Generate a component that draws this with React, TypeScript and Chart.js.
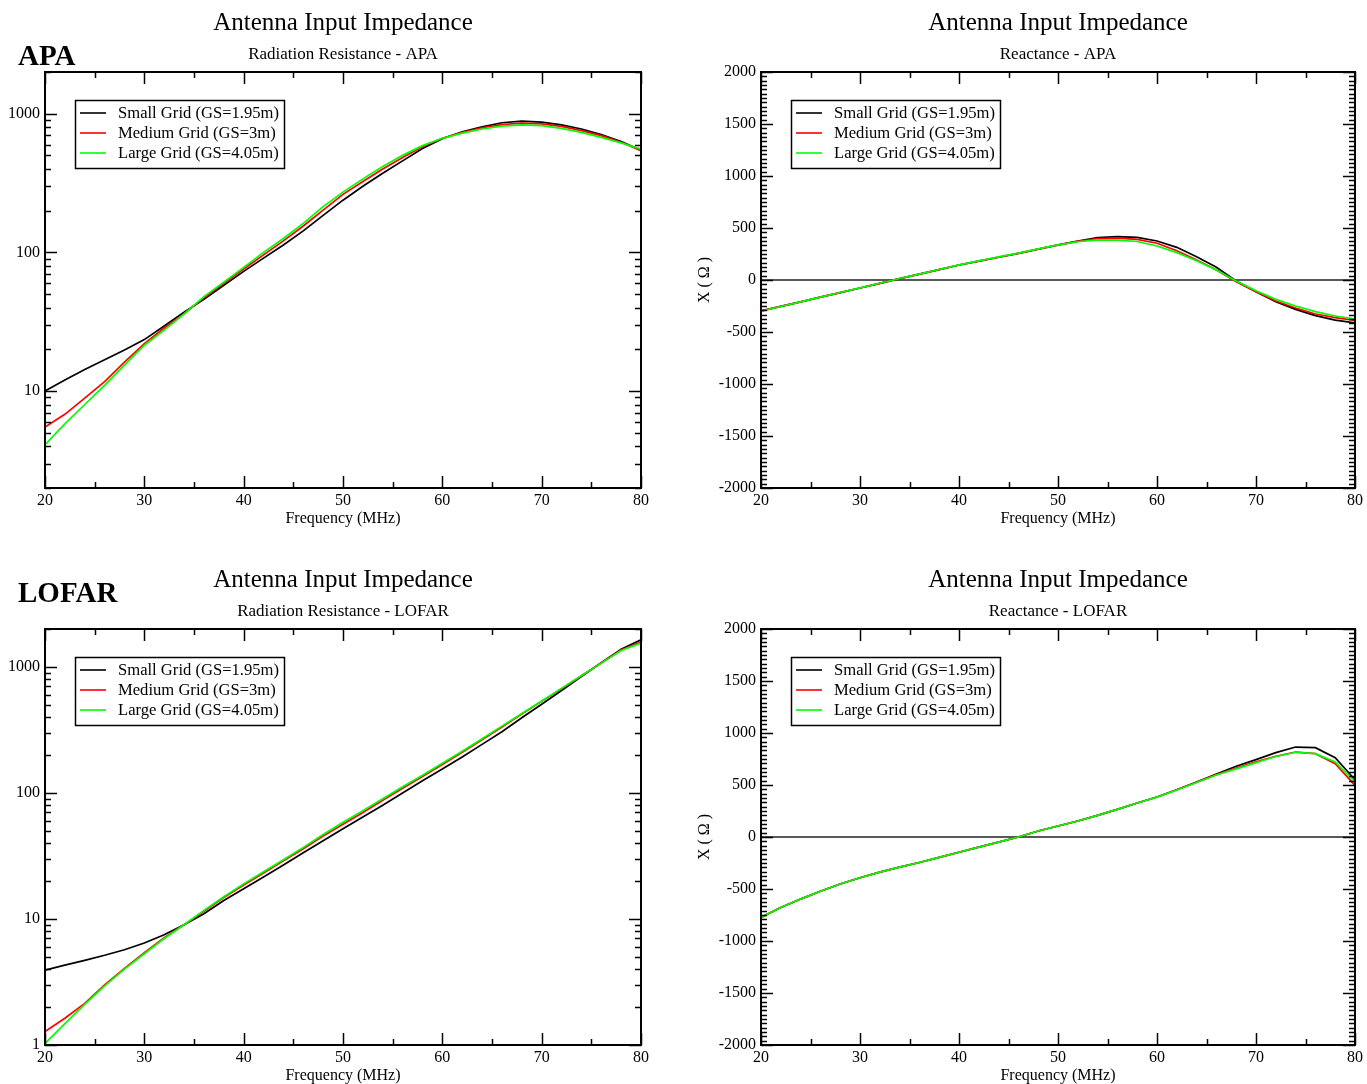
import React, { useEffect, useRef } from 'react';
import { Chart, registerables } from 'chart.js';

Chart.register(...registerables);

// ---------------- data ----------------
const FREQ = [20, 22, 24, 26, 28, 30, 32, 34, 36, 38, 40, 42, 44, 46, 48, 50, 52, 54, 56, 58, 60, 62, 64, 66, 68, 70, 72, 74, 76, 78, 80];

const SERIES_LABELS = ['Small Grid (GS=1.95m)', 'Medium Grid (GS=3m)', 'Large Grid (GS=4.05m)'];
const SERIES_COLORS = ['#000000', '#ff0000', '#00ff00'];

// APA radiation resistance (Ohm)
const APA_R_SMALL = [10.0, 12.0, 14.3, 16.8, 19.8, 23.5, 29.5, 37, 46, 58, 73, 91, 113, 143, 185, 238, 300, 372, 457, 562, 660, 741, 804, 861, 885, 871, 832, 776, 708, 631, 546];
const APA_R_MEDIUM = [5.5, 6.8, 8.9, 11.7, 16.2, 22, 28.5, 36, 47, 60, 76, 96, 121, 155, 202, 262, 325, 400, 483, 578, 665, 735, 793, 835, 855, 846, 810, 755, 695, 622, 542];
const APA_R_LARGE = [4.1, 5.8, 8.0, 11.0, 15.4, 21.4, 27.5, 36, 48, 61, 78, 100, 126, 162, 214, 272, 339, 417, 501, 589, 665, 724, 776, 813, 832, 822, 785, 733, 676, 617, 556];

// APA reactance (Ohm)
const APA_X_SMALL = [-298, -254, -210, -165, -121, -77, -32, 13, 56, 100, 144, 181, 219, 256, 297, 337, 375, 407, 417, 410, 375, 314, 224, 122, -10, -112, -208, -282, -343, -385, -412];
const APA_X_MEDIUM = [-298, -254, -210, -165, -121, -77, -32, 13, 56, 100, 144, 181, 219, 256, 297, 336, 372, 397, 402, 391, 353, 282, 192, 96, -16, -112, -202, -269, -327, -362, -388];
const APA_X_LARGE = [-300, -255, -210, -165, -120, -76, -31, 14, 57, 101, 146, 184, 222, 259, 299, 337, 368, 385, 383, 370, 327, 263, 186, 96, -10, -103, -186, -250, -304, -346, -375];

// LOFAR radiation resistance (Ohm)
const LOFAR_R_SMALL = [3.93, 4.3, 4.7, 5.15, 5.7, 6.45, 7.5, 9.0, 11.0, 14.0, 17.4, 21.5, 26.8, 33.5, 41.8, 52, 64.5, 80, 100, 125, 155, 193, 243, 306, 395, 506, 650, 840, 1080, 1380, 1640];
const LOFAR_R_MEDIUM = [1.28, 1.63, 2.14, 3.0, 4.05, 5.4, 7.1, 9.0, 11.5, 14.8, 18.6, 23.2, 29, 36, 45.5, 56.5, 70, 87.5, 109, 135, 168, 210, 264, 333, 422, 533, 672, 850, 1075, 1360, 1575];
const LOFAR_R_LARGE = [1.03, 1.48, 2.1, 2.95, 4.0, 5.3, 7.0, 9.0, 11.7, 15, 19, 23.7, 29.5, 37, 46.8, 58.6, 72.4, 90, 112, 138, 172, 214, 269, 339, 427, 537, 676, 851, 1072, 1349, 1549];

// LOFAR reactance (Ohm)
const LOFAR_X_SMALL = [-774, -677, -597, -522, -452, -392, -338, -290, -245, -196, -147, -98, -49, 0, 58, 106, 154, 208, 266, 327, 385, 455, 529, 606, 680, 744, 811, 865, 859, 763, 551];
const LOFAR_X_MEDIUM = [-774, -677, -597, -522, -452, -392, -338, -290, -245, -196, -147, -98, -49, 0, 58, 106, 154, 208, 266, 327, 385, 455, 527, 600, 662, 724, 776, 817, 801, 705, 497];
const LOFAR_X_LARGE = [-774, -677, -597, -522, -452, -392, -338, -290, -245, -196, -147, -98, -49, 0, 58, 106, 154, 208, 266, 327, 383, 452, 524, 596, 655, 715, 774, 815, 801, 721, 529];

// tick labels
const X_TICKS = [20, 30, 40, 50, 60, 70, 80];
const LOG_TICKS = [1, 10, 100, 1000];
const REACT_TICKS = [-2000, -1500, -1000, -500, 0, 500, 1000, 1500, 2000];

const MAIN_TITLE = 'Antenna Input Impedance';
const X_TITLE = 'Frequency (MHz)';
const Y_TITLE_REACT = 'X ( Ω )';

// ---------------- styling ----------------
const FONT = "'Liberation Serif', 'Times New Roman', serif";
Chart.defaults.color = '#000';
Chart.defaults.font.family = FONT;

const PANEL_H = 527;

function logTickList(min: number, max: number) {
  const out: { v: number; major: boolean }[] = [];
  for (let k = Math.floor(Math.log10(min)); k <= Math.ceil(Math.log10(max)); k++) {
    for (let m = 1; m <= 9; m++) {
      const v = m * Math.pow(10, k);
      if (v >= min - 1e-9 && v <= max + 1e-9) out.push({ v, major: m === 1 });
    }
  }
  return out;
}

function linTickList(min: number, max: number, major: number, sub: number) {
  const out: { v: number; major: boolean }[] = [];
  const step = major / sub;
  const n = Math.round((max - min) / step);
  for (let i = 0; i <= n; i++) out.push({ v: min + i * step, major: i % sub === 0 });
  return out;
}

const framePlugin = {
  id: 'frameTicks',
  afterDatasetsDraw(chart: any, _args: any, opts: any) {
    const { ctx, chartArea } = chart;
    const { left, right, top, bottom } = chartArea;
    const xs = chart.scales.x;
    const ys = chart.scales.y;
    ctx.save();
    ctx.strokeStyle = '#000';
    ctx.lineCap = 'butt';
    const seg = (x1: number, y1: number, x2: number, y2: number) => {
      ctx.beginPath();
      ctx.moveTo(x1, y1);
      ctx.lineTo(x2, y2);
      ctx.stroke();
    };
    ctx.lineWidth = 1.5;
    // x ticks (major 10, minor 5), inward, top and bottom
    for (let v = xs.min; v <= xs.max + 1e-9; v += 5) {
      const px = Math.round(xs.getPixelForValue(v)) + 0.5;
      const len = Math.abs(v % 10) < 1e-9 ? 12 : 6;
      seg(px, bottom, px, bottom - len);
      seg(px, top, px, top + len);
    }
    // y ticks
    const list = opts.yKind === 'log' ? logTickList(ys.min, ys.max) : linTickList(ys.min, ys.max, 500, 12);
    for (const t of list) {
      const py = Math.round(ys.getPixelForValue(t.v)) + 0.5;
      const len = t.major ? 12 : 6;
      seg(left, py, left + len, py);
      seg(right, py, right - len, py);
    }
    // frame
    ctx.lineWidth = 2;
    ctx.strokeRect(left, top, right - left, bottom - top);

    // legend box
    const bx = left + 30;
    const by = top + 28;
    const bw = 209;
    const bh = 68;
    ctx.fillStyle = '#fff';
    ctx.fillRect(bx, by, bw, bh);
    ctx.lineWidth = 1.5;
    ctx.strokeStyle = '#000';
    ctx.strokeRect(bx + 0.5, by + 0.5, bw, bh);
    ctx.font = `16.6px ${FONT}`;
    ctx.textBaseline = 'middle';
    ctx.textAlign = 'left';
    const ds = chart.data.datasets.filter((d: any) => !d.hideInLegend);
    ds.forEach((d: any, i: number) => {
      const y = by + 13 + i * 20;
      ctx.strokeStyle = d.borderColor;
      ctx.lineWidth = 1.6;
      seg(bx + 5, y, bx + 31, y);
      ctx.fillStyle = '#000';
      ctx.fillText(d.label, bx + 43, y + 1);
    });
    ctx.restore();
  },
};

type PanelCfg = {
  left: number;
  top: number;
  width: number;
  yWidth: number;
  padRight: number;
  subtitle: string;
  kind: 'log' | 'lin';
  yMin: number;
  yMax: number;
  series: number[][];
};

function Panel({ cfg }: { cfg: PanelCfg }) {
  const ref = useRef<HTMLCanvasElement>(null);
  useEffect(() => {
    const isLog = cfg.kind === 'log';
    const datasets: any[] = cfg.series.map((s, i) => ({
      label: SERIES_LABELS[i],
      data: FREQ.map((f, j) => ({ x: f, y: s[j] })),
      borderColor: SERIES_COLORS[i],
      backgroundColor: SERIES_COLORS[i],
      borderWidth: 1.7,
      pointRadius: 0,
      tension: 0,
      fill: false,
      order: 2 - i,
    }));
    if (!isLog) {
      datasets.push({
        label: 'zero',
        hideInLegend: true,
        data: [{ x: FREQ[0], y: 0 }, { x: FREQ[FREQ.length - 1], y: 0 }],
        borderColor: '#222',
        borderWidth: 1.3,
        pointRadius: 0,
        fill: false,
        order: 5,
      });
    }
    const yTickVals = isLog ? LOG_TICKS : REACT_TICKS;
    const chart = new Chart(ref.current as HTMLCanvasElement, {
      type: 'line',
      data: { datasets },
      options: {
        animation: false,
        responsive: false,
        maintainAspectRatio: false,
        layout: { padding: { left: 0, right: cfg.padRight, top: 0, bottom: 0 } },
        plugins: {
          legend: { display: false },
          tooltip: { enabled: false },
          title: {
            display: true,
            text: MAIN_TITLE,
            fullSize: false,
            color: '#000',
            font: { family: FONT, size: 25, weight: 'normal' },
            padding: { top: 8, bottom: 0 },
          },
          subtitle: {
            display: true,
            text: cfg.subtitle,
            fullSize: false,
            color: '#000',
            font: { family: FONT, size: 17, weight: 'normal' },
            padding: { top: 6.8, bottom: 6.8 },
          },
          frameTicks: { yKind: cfg.kind },
        } as any,
        scales: {
          x: {
            type: 'linear',
            min: 20,
            max: 80,
            grid: { display: false, drawTicks: false },
            border: { display: false },
            afterBuildTicks: (s: any) => {
              s.ticks = X_TICKS.map((v) => ({ value: v }));
            },
            afterFit: (s: any) => {
              s.height = PANEL_H - 488;
            },
            ticks: {
              padding: 3,
              maxRotation: 0,
              autoSkip: false,
              color: '#000',
              font: { family: FONT, size: 16 },
              callback: (v: any) => String(v),
            },
            title: {
              display: true,
              text: X_TITLE,
              color: '#000',
              font: { family: FONT, size: 16, lineHeight: 1 },
              padding: { top: 0, bottom: 0 },
            },
          },
          y: {
            type: isLog ? 'logarithmic' : 'linear',
            min: cfg.yMin,
            max: cfg.yMax,
            grid: { display: false, drawTicks: false },
            border: { display: false },
            afterBuildTicks: (s: any) => {
              s.ticks = yTickVals.filter((v) => v >= cfg.yMin && v <= cfg.yMax).map((v) => ({ value: v }));
            },
            afterFit: (s: any) => {
              s.width = cfg.yWidth;
            },
            ticks: {
              padding: 5,
              autoSkip: false,
              color: '#000',
              font: { family: FONT, size: 16 },
              callback: (v: any) => String(v),
            },
            title: {
              display: !isLog,
              text: Y_TITLE_REACT,
              color: '#000',
              font: { family: FONT, size: 16 },
              padding: { top: 12, bottom: 0 },
            },
          },
        } as any,
      },
      plugins: [framePlugin as any],
    });
    return () => chart.destroy();
  }, [cfg]);
  return (
    <canvas
      ref={ref}
      width={cfg.width}
      height={PANEL_H}
      style={{ position: 'absolute', left: cfg.left, top: cfg.top, width: cfg.width, height: PANEL_H }}
    />
  );
}

const PANELS: PanelCfg[] = [
  { left: 0, top: 0, width: 683, yWidth: 45, padRight: 42, subtitle: 'Radiation Resistance - APA', kind: 'log', yMin: 2, yMax: 2000, series: [APA_R_SMALL, APA_R_MEDIUM, APA_R_LARGE] },
  { left: 683, top: 0, width: 684, yWidth: 78, padRight: 12, subtitle: 'Reactance - APA', kind: 'lin', yMin: -2000, yMax: 2000, series: [APA_X_SMALL, APA_X_MEDIUM, APA_X_LARGE] },
  { left: 0, top: 557, width: 683, yWidth: 45, padRight: 42, subtitle: 'Radiation Resistance - LOFAR', kind: 'log', yMin: 1, yMax: 2000, series: [LOFAR_R_SMALL, LOFAR_R_MEDIUM, LOFAR_R_LARGE] },
  { left: 683, top: 557, width: 684, yWidth: 78, padRight: 12, subtitle: 'Reactance - LOFAR', kind: 'lin', yMin: -2000, yMax: 2000, series: [LOFAR_X_SMALL, LOFAR_X_MEDIUM, LOFAR_X_LARGE] },
];

const groupLabel: React.CSSProperties = {
  position: 'absolute',
  left: 18,
  fontFamily: FONT,
  fontWeight: 'bold',
  fontSize: 29,
  lineHeight: '29px',
  color: '#000',
  whiteSpace: 'nowrap',
};

export default function App() {
  return (
    <div style={{ position: 'absolute', left: 0, top: 0, width: 1367, height: 1084, background: '#fff', overflow: 'hidden' }}>
      {PANELS.map((p, i) => (
        <Panel key={i} cfg={p} />
      ))}
      <div style={{ ...groupLabel, top: 41 }}>APA</div>
      <div style={{ ...groupLabel, top: 578 }}>LOFAR</div>
    </div>
  );
}
